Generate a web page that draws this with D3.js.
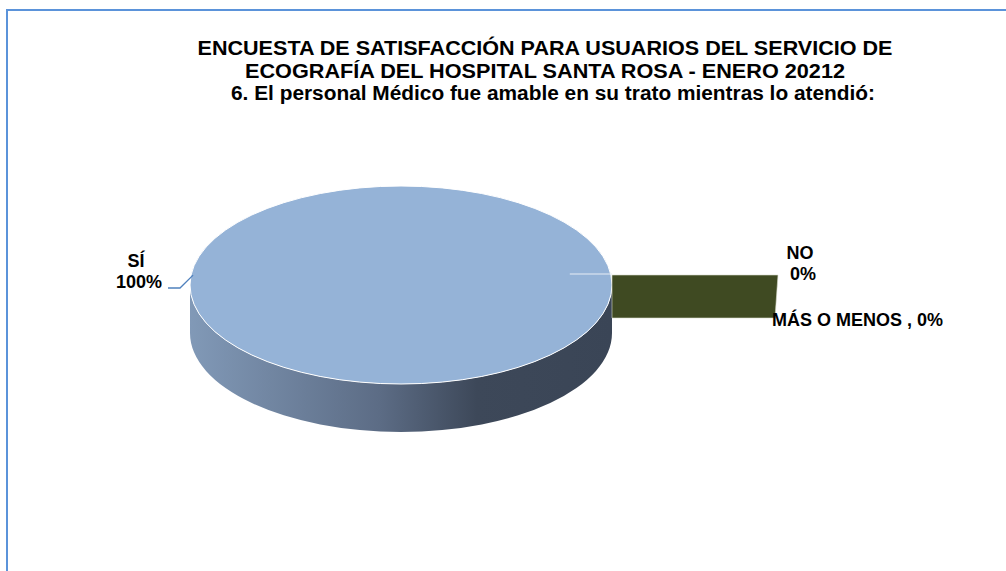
<!DOCTYPE html>
<html>
<head>
<meta charset="utf-8">
<script src="https://cdn.jsdelivr.net/npm/d3@7"></script>
<style>
  body { margin: 0; background: #fff; }
  svg text { font-family: "Liberation Sans", Arial, sans-serif; font-weight: bold; fill: #000; }
</style>
</head>
<body>
<div id="chart"></div>
<script>
// chart data
const titleLines = [
  "ENCUESTA DE SATISFACCIÓN PARA USUARIOS DEL SERVICIO DE",
  "ECOGRAFÍA DEL HOSPITAL SANTA ROSA - ENERO 20212",
  "6. El personal Médico fue amable en su trato mientras lo atendió:"
];
const categories = ["SÍ", "NO", "MÁS O MENOS"];
const percents = [100, 0, 0];

const width = 1006;
const height = 571;

// pie geometry (3d look: flattened ellipse + side band)
const cx = 401, cy = 285, rx = 211, ry = 99, depth = 48;

const svg = d3.select("#chart")
  .append("svg")
  .attr("width", width)
  .attr("height", height);

// chart area border (only left + top visible)
svg.append("path")
  .attr("d", `M7,${height + 5}V10H${width + 5}`)
  .attr("fill", "none")
  .attr("stroke", "#5b93da")
  .attr("stroke-width", 2);

// title - the original font runs wider than Liberation, so stretch to fit
const titleWidths = [695, 600, 644];
svg.append("g")
  .selectAll("text")
  .data(titleLines)
  .join("text")
  .attr("x", (d, i) => i === 2 ? 553 : 545)
  .attr("y", (d, i) => 55 + i * 22.5)
  .attr("text-anchor", "middle")
  .attr("textLength", (d, i) => titleWidths[i])
  .attr("lengthAdjust", "spacingAndGlyphs")
  .style("font-size", "19.5px")
  .text(d => d);

const data = categories.map((c, i) => ({ cat: c, value: percents[i] }));

const pie = d3.pie()
  .sort(null)
  .value(d => d.value)
  .startAngle(Math.PI / 2)
  .endAngle(Math.PI / 2 + 2 * Math.PI);

const slices = pie(data);

// point on the top ellipse for an angle (0 = up, clockwise)
const px = a => cx + rx * Math.sin(a);
const py = a => cy - ry * Math.cos(a);

const defs = svg.append("defs");
const grad = defs.append("linearGradient")
  .attr("id", "sideGrad")
  .attr("gradientUnits", "userSpaceOnUse")
  .attr("x1", cx - rx).attr("x2", cx + rx)
  .attr("y1", 0).attr("y2", 0);
[[0, "#8199b7"], [0.45, "#5c6c85"], [0.68, "#3d4859"], [1, "#3a4556"]]
  .forEach(([o, c]) => grad.append("stop").attr("offset", o).attr("stop-color", c));

// side band (front half)
svg.append("path")
  .attr("d", `M${cx - rx},${cy}`
    + `A${rx},${ry} 0 0 0 ${cx + rx},${cy}`
    + `V${cy + depth}`
    + `A${rx},${ry} 0 0 1 ${cx - rx},${cy + depth}Z`)
  .attr("fill", "url(#sideGrad)");

// top face of the big slice
const arc = d3.arc().innerRadius(0).outerRadius(1);
const big = slices.find(s => s.value > 0);
svg.append("path")
  .attr("transform", `translate(${cx},${cy}) scale(${rx},${ry})`)
  .attr("d", arc(big))
  .attr("fill", "#95b3d7")
  .attr("stroke", "#ffffff")
  .attr("stroke-width", 1)
  .attr("vector-effect", "non-scaling-stroke");

// zero slices: only their exploded radial face shows
const zero = slices.filter(s => s.value === 0);
const explodeLen = 166;
const lift = 10;
zero.slice(0, 1).forEach(s => {
  const a = s.startAngle;
  const x0 = px(a), y0 = py(a) - lift;
  svg.append("path")
    .attr("d", `M${x0},${y0}H${x0 + explodeLen}L${x0 + explodeLen - 3},${y0 + depth - 5}H${x0}Z`)
    .attr("fill", "#3f4a22")
    .attr("stroke", "#d8dccc")
    .attr("stroke-width", 0.6);
  svg.append("line")
    .attr("x1", cx + rx * 0.8 * Math.sin(a)).attr("x2", x0)
    .attr("y1", y0 - 1).attr("y2", y0 - 1)
    .attr("stroke", "#e8eef6")
    .attr("stroke-width", 1.2);
});

// labels
const pct = v => `${v}%`;
const labelG = svg.append("g").style("font-size", "18px");

// SÍ
const leadA = -Math.PI / 2 + 0.1;
labelG.append("text").attr("x", 136).attr("y", 267).attr("text-anchor", "middle").text(data[0].cat);
labelG.append("text").attr("x", 139).attr("y", 288).attr("text-anchor", "middle").text(pct(data[0].value));
svg.append("polyline")
  .attr("points", `168,288 180,288 ${px(leadA) + 2},${py(leadA)}`)
  .attr("fill", "none")
  .attr("stroke", "#4f81bd")
  .attr("stroke-width", 1.3);

// NO
labelG.append("text").attr("x", 800).attr("y", 259).attr("text-anchor", "middle").text(data[1].cat);
labelG.append("text").attr("x", 803).attr("y", 280).attr("text-anchor", "middle").text(pct(data[1].value));

// MÁS O MENOS
labelG.append("text").attr("x", 772).attr("y", 326).text(`${data[2].cat} , ${pct(data[2].value)}`);
</script>
</body>
</html>
